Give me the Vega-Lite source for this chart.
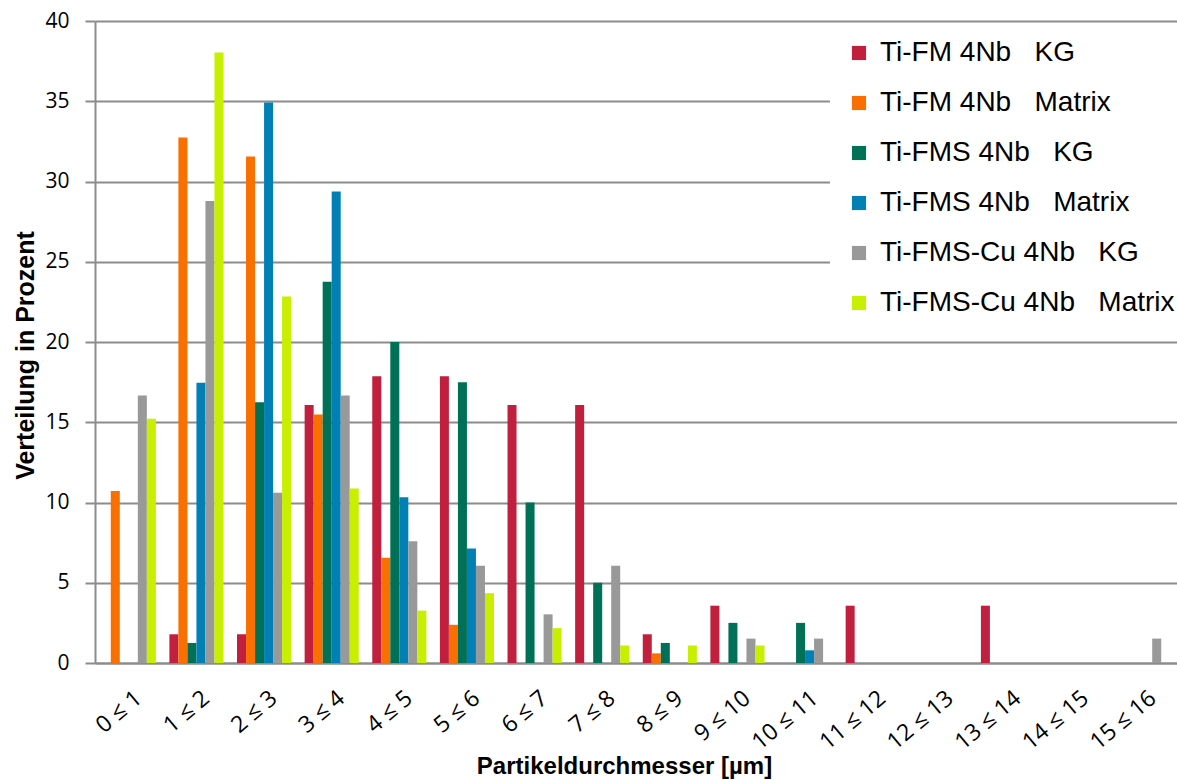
{
  "$schema": "https://vega.github.io/schema/vega-lite/v6.json",
  "autosize": "none",
  "width": 1082,
  "height": 642,
  "padding": {"left": 95, "top": 21, "right": 0, "bottom": 117},
  "background": "white",
  "config": {"view": {"stroke": null}},
  "datasets": {
    "d": [
      {"k": "0 ≤ 1", "s": "Ti-FM 4Nb\u00a0\u00a0\u00a0KG", "v": 0},
      {"k": "0 ≤ 1", "s": "Ti-FM 4Nb\u00a0\u00a0\u00a0Matrix", "v": 10.71},
      {"k": "0 ≤ 1", "s": "Ti-FMS 4Nb\u00a0\u00a0\u00a0KG", "v": 0},
      {"k": "0 ≤ 1", "s": "Ti-FMS 4Nb\u00a0\u00a0\u00a0Matrix", "v": 0},
      {"k": "0 ≤ 1", "s": "Ti-FMS-Cu 4Nb\u00a0\u00a0\u00a0KG", "v": 16.67},
      {"k": "0 ≤ 1", "s": "Ti-FMS-Cu 4Nb\u00a0\u00a0\u00a0Matrix", "v": 15.22},
      {"k": "1 ≤ 2", "s": "Ti-FM 4Nb\u00a0\u00a0\u00a0KG", "v": 1.79},
      {"k": "1 ≤ 2", "s": "Ti-FM 4Nb\u00a0\u00a0\u00a0Matrix", "v": 32.74},
      {"k": "1 ≤ 2", "s": "Ti-FMS 4Nb\u00a0\u00a0\u00a0KG", "v": 1.25},
      {"k": "1 ≤ 2", "s": "Ti-FMS 4Nb\u00a0\u00a0\u00a0Matrix", "v": 17.46},
      {"k": "1 ≤ 2", "s": "Ti-FMS-Cu 4Nb\u00a0\u00a0\u00a0KG", "v": 28.79},
      {"k": "1 ≤ 2", "s": "Ti-FMS-Cu 4Nb\u00a0\u00a0\u00a0Matrix", "v": 38.04},
      {"k": "2 ≤ 3", "s": "Ti-FM 4Nb\u00a0\u00a0\u00a0KG", "v": 1.79},
      {"k": "2 ≤ 3", "s": "Ti-FM 4Nb\u00a0\u00a0\u00a0Matrix", "v": 31.55},
      {"k": "2 ≤ 3", "s": "Ti-FMS 4Nb\u00a0\u00a0\u00a0KG", "v": 16.25},
      {"k": "2 ≤ 3", "s": "Ti-FMS 4Nb\u00a0\u00a0\u00a0Matrix", "v": 34.92},
      {"k": "2 ≤ 3", "s": "Ti-FMS-Cu 4Nb\u00a0\u00a0\u00a0KG", "v": 10.61},
      {"k": "2 ≤ 3", "s": "Ti-FMS-Cu 4Nb\u00a0\u00a0\u00a0Matrix", "v": 22.83},
      {"k": "3 ≤ 4", "s": "Ti-FM 4Nb\u00a0\u00a0\u00a0KG", "v": 16.07},
      {"k": "3 ≤ 4", "s": "Ti-FM 4Nb\u00a0\u00a0\u00a0Matrix", "v": 15.48},
      {"k": "3 ≤ 4", "s": "Ti-FMS 4Nb\u00a0\u00a0\u00a0KG", "v": 23.75},
      {"k": "3 ≤ 4", "s": "Ti-FMS 4Nb\u00a0\u00a0\u00a0Matrix", "v": 29.37},
      {"k": "3 ≤ 4", "s": "Ti-FMS-Cu 4Nb\u00a0\u00a0\u00a0KG", "v": 16.67},
      {"k": "3 ≤ 4", "s": "Ti-FMS-Cu 4Nb\u00a0\u00a0\u00a0Matrix", "v": 10.87},
      {"k": "4 ≤ 5", "s": "Ti-FM 4Nb\u00a0\u00a0\u00a0KG", "v": 17.86},
      {"k": "4 ≤ 5", "s": "Ti-FM 4Nb\u00a0\u00a0\u00a0Matrix", "v": 6.55},
      {"k": "4 ≤ 5", "s": "Ti-FMS 4Nb\u00a0\u00a0\u00a0KG", "v": 20.0},
      {"k": "4 ≤ 5", "s": "Ti-FMS 4Nb\u00a0\u00a0\u00a0Matrix", "v": 10.32},
      {"k": "4 ≤ 5", "s": "Ti-FMS-Cu 4Nb\u00a0\u00a0\u00a0KG", "v": 7.58},
      {"k": "4 ≤ 5", "s": "Ti-FMS-Cu 4Nb\u00a0\u00a0\u00a0Matrix", "v": 3.26},
      {"k": "5 ≤ 6", "s": "Ti-FM 4Nb\u00a0\u00a0\u00a0KG", "v": 17.86},
      {"k": "5 ≤ 6", "s": "Ti-FM 4Nb\u00a0\u00a0\u00a0Matrix", "v": 2.38},
      {"k": "5 ≤ 6", "s": "Ti-FMS 4Nb\u00a0\u00a0\u00a0KG", "v": 17.5},
      {"k": "5 ≤ 6", "s": "Ti-FMS 4Nb\u00a0\u00a0\u00a0Matrix", "v": 7.14},
      {"k": "5 ≤ 6", "s": "Ti-FMS-Cu 4Nb\u00a0\u00a0\u00a0KG", "v": 6.06},
      {"k": "5 ≤ 6", "s": "Ti-FMS-Cu 4Nb\u00a0\u00a0\u00a0Matrix", "v": 4.35},
      {"k": "6 ≤ 7", "s": "Ti-FM 4Nb\u00a0\u00a0\u00a0KG", "v": 16.07},
      {"k": "6 ≤ 7", "s": "Ti-FM 4Nb\u00a0\u00a0\u00a0Matrix", "v": 0},
      {"k": "6 ≤ 7", "s": "Ti-FMS 4Nb\u00a0\u00a0\u00a0KG", "v": 10.0},
      {"k": "6 ≤ 7", "s": "Ti-FMS 4Nb\u00a0\u00a0\u00a0Matrix", "v": 0},
      {"k": "6 ≤ 7", "s": "Ti-FMS-Cu 4Nb\u00a0\u00a0\u00a0KG", "v": 3.03},
      {"k": "6 ≤ 7", "s": "Ti-FMS-Cu 4Nb\u00a0\u00a0\u00a0Matrix", "v": 2.17},
      {"k": "7 ≤ 8", "s": "Ti-FM 4Nb\u00a0\u00a0\u00a0KG", "v": 16.07},
      {"k": "7 ≤ 8", "s": "Ti-FM 4Nb\u00a0\u00a0\u00a0Matrix", "v": 0},
      {"k": "7 ≤ 8", "s": "Ti-FMS 4Nb\u00a0\u00a0\u00a0KG", "v": 5.0},
      {"k": "7 ≤ 8", "s": "Ti-FMS 4Nb\u00a0\u00a0\u00a0Matrix", "v": 0},
      {"k": "7 ≤ 8", "s": "Ti-FMS-Cu 4Nb\u00a0\u00a0\u00a0KG", "v": 6.06},
      {"k": "7 ≤ 8", "s": "Ti-FMS-Cu 4Nb\u00a0\u00a0\u00a0Matrix", "v": 1.09},
      {"k": "8 ≤ 9", "s": "Ti-FM 4Nb\u00a0\u00a0\u00a0KG", "v": 1.79},
      {"k": "8 ≤ 9", "s": "Ti-FM 4Nb\u00a0\u00a0\u00a0Matrix", "v": 0.6},
      {"k": "8 ≤ 9", "s": "Ti-FMS 4Nb\u00a0\u00a0\u00a0KG", "v": 1.25},
      {"k": "8 ≤ 9", "s": "Ti-FMS 4Nb\u00a0\u00a0\u00a0Matrix", "v": 0},
      {"k": "8 ≤ 9", "s": "Ti-FMS-Cu 4Nb\u00a0\u00a0\u00a0KG", "v": 0},
      {"k": "8 ≤ 9", "s": "Ti-FMS-Cu 4Nb\u00a0\u00a0\u00a0Matrix", "v": 1.09},
      {"k": "9 ≤ 10", "s": "Ti-FM 4Nb\u00a0\u00a0\u00a0KG", "v": 3.57},
      {"k": "9 ≤ 10", "s": "Ti-FM 4Nb\u00a0\u00a0\u00a0Matrix", "v": 0},
      {"k": "9 ≤ 10", "s": "Ti-FMS 4Nb\u00a0\u00a0\u00a0KG", "v": 2.5},
      {"k": "9 ≤ 10", "s": "Ti-FMS 4Nb\u00a0\u00a0\u00a0Matrix", "v": 0},
      {"k": "9 ≤ 10", "s": "Ti-FMS-Cu 4Nb\u00a0\u00a0\u00a0KG", "v": 1.52},
      {"k": "9 ≤ 10", "s": "Ti-FMS-Cu 4Nb\u00a0\u00a0\u00a0Matrix", "v": 1.09},
      {"k": "10 ≤ 11", "s": "Ti-FM 4Nb\u00a0\u00a0\u00a0KG", "v": 0},
      {"k": "10 ≤ 11", "s": "Ti-FM 4Nb\u00a0\u00a0\u00a0Matrix", "v": 0},
      {"k": "10 ≤ 11", "s": "Ti-FMS 4Nb\u00a0\u00a0\u00a0KG", "v": 2.5},
      {"k": "10 ≤ 11", "s": "Ti-FMS 4Nb\u00a0\u00a0\u00a0Matrix", "v": 0.79},
      {"k": "10 ≤ 11", "s": "Ti-FMS-Cu 4Nb\u00a0\u00a0\u00a0KG", "v": 1.52},
      {"k": "10 ≤ 11", "s": "Ti-FMS-Cu 4Nb\u00a0\u00a0\u00a0Matrix", "v": 0},
      {"k": "11 ≤ 12", "s": "Ti-FM 4Nb\u00a0\u00a0\u00a0KG", "v": 3.57},
      {"k": "11 ≤ 12", "s": "Ti-FM 4Nb\u00a0\u00a0\u00a0Matrix", "v": 0},
      {"k": "11 ≤ 12", "s": "Ti-FMS 4Nb\u00a0\u00a0\u00a0KG", "v": 0},
      {"k": "11 ≤ 12", "s": "Ti-FMS 4Nb\u00a0\u00a0\u00a0Matrix", "v": 0},
      {"k": "11 ≤ 12", "s": "Ti-FMS-Cu 4Nb\u00a0\u00a0\u00a0KG", "v": 0},
      {"k": "11 ≤ 12", "s": "Ti-FMS-Cu 4Nb\u00a0\u00a0\u00a0Matrix", "v": 0},
      {"k": "12 ≤ 13", "s": "Ti-FM 4Nb\u00a0\u00a0\u00a0KG", "v": 0},
      {"k": "12 ≤ 13", "s": "Ti-FM 4Nb\u00a0\u00a0\u00a0Matrix", "v": 0},
      {"k": "12 ≤ 13", "s": "Ti-FMS 4Nb\u00a0\u00a0\u00a0KG", "v": 0},
      {"k": "12 ≤ 13", "s": "Ti-FMS 4Nb\u00a0\u00a0\u00a0Matrix", "v": 0},
      {"k": "12 ≤ 13", "s": "Ti-FMS-Cu 4Nb\u00a0\u00a0\u00a0KG", "v": 0},
      {"k": "12 ≤ 13", "s": "Ti-FMS-Cu 4Nb\u00a0\u00a0\u00a0Matrix", "v": 0},
      {"k": "13 ≤ 14", "s": "Ti-FM 4Nb\u00a0\u00a0\u00a0KG", "v": 3.57},
      {"k": "13 ≤ 14", "s": "Ti-FM 4Nb\u00a0\u00a0\u00a0Matrix", "v": 0},
      {"k": "13 ≤ 14", "s": "Ti-FMS 4Nb\u00a0\u00a0\u00a0KG", "v": 0},
      {"k": "13 ≤ 14", "s": "Ti-FMS 4Nb\u00a0\u00a0\u00a0Matrix", "v": 0},
      {"k": "13 ≤ 14", "s": "Ti-FMS-Cu 4Nb\u00a0\u00a0\u00a0KG", "v": 0},
      {"k": "13 ≤ 14", "s": "Ti-FMS-Cu 4Nb\u00a0\u00a0\u00a0Matrix", "v": 0},
      {"k": "14 ≤ 15", "s": "Ti-FM 4Nb\u00a0\u00a0\u00a0KG", "v": 0},
      {"k": "14 ≤ 15", "s": "Ti-FM 4Nb\u00a0\u00a0\u00a0Matrix", "v": 0},
      {"k": "14 ≤ 15", "s": "Ti-FMS 4Nb\u00a0\u00a0\u00a0KG", "v": 0},
      {"k": "14 ≤ 15", "s": "Ti-FMS 4Nb\u00a0\u00a0\u00a0Matrix", "v": 0},
      {"k": "14 ≤ 15", "s": "Ti-FMS-Cu 4Nb\u00a0\u00a0\u00a0KG", "v": 0},
      {"k": "14 ≤ 15", "s": "Ti-FMS-Cu 4Nb\u00a0\u00a0\u00a0Matrix", "v": 0},
      {"k": "15 ≤ 16", "s": "Ti-FM 4Nb\u00a0\u00a0\u00a0KG", "v": 0},
      {"k": "15 ≤ 16", "s": "Ti-FM 4Nb\u00a0\u00a0\u00a0Matrix", "v": 0},
      {"k": "15 ≤ 16", "s": "Ti-FMS 4Nb\u00a0\u00a0\u00a0KG", "v": 0},
      {"k": "15 ≤ 16", "s": "Ti-FMS 4Nb\u00a0\u00a0\u00a0Matrix", "v": 0},
      {"k": "15 ≤ 16", "s": "Ti-FMS-Cu 4Nb\u00a0\u00a0\u00a0KG", "v": 1.52},
      {"k": "15 ≤ 16", "s": "Ti-FMS-Cu 4Nb\u00a0\u00a0\u00a0Matrix", "v": 0}
    ]
  },
  "data": {"name": "d"},
  "mark": {"type": "bar"},
  "encoding": {
    "x": {
      "field": "k",
      "type": "nominal",
      "sort": null,
      "scale": {"paddingInner": 0.2, "paddingOuter": 0.1},
      "axis": {
        "labelAngle": -40,
        "labelAlign": "right",
        "labelBaseline": "middle",
        "ticks": false,
        "labelPadding": 32,
        "labelOffset": 10,
        "labelFont": "Open Sans",
        "labelFontSize": 23,
        "labelColor": "#000000",
        "domainColor": "#8c8c8c",
        "domainWidth": 2,
        "grid": false,
        "title": "Partikeldurchmesser [µm]",
        "titleFont": "Liberation Sans",
        "titleFontWeight": "bold",
        "titleFontSize": 24,
        "titleColor": "#000000",
        "titleX": 529,
        "titleY": 110,
        "titleAlign": "center",
        "titleBaseline": "alphabetic"
      }
    },
    "xOffset": {
      "field": "s",
      "type": "nominal",
      "sort": null,
      "scale": {"paddingInner": 0, "paddingOuter": 0}
    },
    "y": {
      "field": "v",
      "type": "quantitative",
      "scale": {"domain": [0, 40], "nice": false},
      "axis": {
        "values": [0, 5, 10, 15, 20, 25, 30, 35, 40],
        "grid": true,
        "gridColor": "#8c8c8c",
        "gridWidth": 2,
        "domainColor": "#8c8c8c",
        "domainWidth": 2,
        "tickColor": "#8c8c8c",
        "tickWidth": 2,
        "tickSize": 10,
        "labelPadding": 16,
        "labelFont": "Open Sans",
        "labelFontSize": 21,
        "labelColor": "#000000",
        "title": "Verteilung in Prozent",
        "titleFont": "Liberation Sans",
        "titleFontWeight": "bold",
        "titleFontSize": 25,
        "titleColor": "#000000",
        "titleAngle": -90,
        "titleX": -62,
        "titleY": 334,
        "titleAlign": "center",
        "titleBaseline": "alphabetic"
      }
    },
    "color": {
      "field": "s",
      "type": "nominal",
      "sort": null,
      "scale": {
        "domain": ["Ti-FM 4Nb\u00a0\u00a0\u00a0KG", "Ti-FM 4Nb\u00a0\u00a0\u00a0Matrix", "Ti-FMS 4Nb\u00a0\u00a0\u00a0KG", "Ti-FMS 4Nb\u00a0\u00a0\u00a0Matrix", "Ti-FMS-Cu 4Nb\u00a0\u00a0\u00a0KG", "Ti-FMS-Cu 4Nb\u00a0\u00a0\u00a0Matrix"],
        "range": ["#C01F3E", "#F97000", "#007057", "#0080B5", "#999999", "#C8EE00"]
      },
      "legend": {
        "orient": "none",
        "legendX": 735,
        "legendY": 3,
        "padding": 15,
        "fillColor": "white",
        "title": null,
        "symbolType": "square",
        "symbolSize": 200,
        "symbolStrokeWidth": 0,
        "symbolOpacity": 1,
        "labelFont": "Liberation Sans",
        "labelFontSize": 28,
        "labelColor": "#000000",
        "labelOffset": 7,
        "rowPadding": 22,
        "labelLimit": 400
      }
    }
  }
}
